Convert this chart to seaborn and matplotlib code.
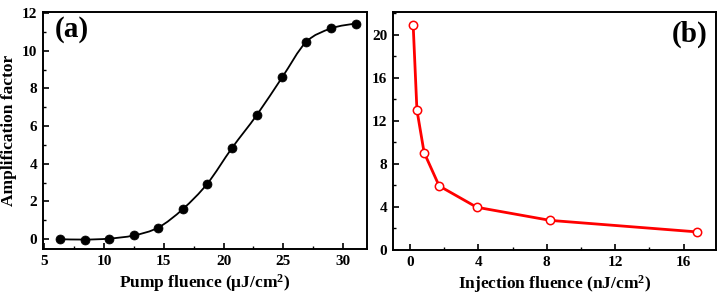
import numpy as np
import pandas as pd
import matplotlib
matplotlib.use("Agg")
import matplotlib.pyplot as plt
from matplotlib.path import Path
from matplotlib.patches import PathPatch
from matplotlib.ticker import MultipleLocator
import seaborn as sns

# ---- data ----
pump_fluence = [6.3, 8.4, 10.4, 12.5, 14.55, 16.6, 18.65, 20.7, 22.8, 24.9, 26.9, 29.0, 31.05]
amplification = [0.0, -0.02, 0.03, 0.2, 0.62, 1.6, 2.95, 4.83, 6.6, 8.58, 10.45, 11.18, 11.44]

injection_fluence = [0.18, 0.4, 0.82, 1.7, 3.9, 8.2, 16.8]
injection_amp = [20.9, 13.0, 9.05, 5.95, 3.97, 2.75, 1.68]

xlabel_a = "Pump fluence (\u03bcJ/cm$^{\\mathbf{2}}$)"
xlabel_b = "Injection fluence (nJ/cm$^{\\mathbf{2}}$)"
ylabel_a = "Amplification factor"

sns.set_theme(style="ticks")
plt.rcParams["font.family"] = ["Liberation Serif", "DejaVu Serif"]
plt.rcParams["font.weight"] = "bold"
plt.rcParams["mathtext.fontset"] = "custom"
plt.rcParams["mathtext.bf"] = "Liberation Serif:bold"
plt.rcParams["mathtext.rm"] = "Liberation Serif:bold"
plt.rcParams["mathtext.it"] = "Liberation Serif:bold"
for k in ["text.color", "axes.labelcolor", "xtick.color", "ytick.color", "axes.edgecolor"]:
    plt.rcParams[k] = "black"

fig = plt.figure(figsize=(7.25, 2.95), dpi=100)
ax1 = fig.add_axes([43/725, 46/295, 324/725, 237/295])
ax2 = fig.add_axes([393/725, 45/295, 323/725, 238/295])

df_a = pd.DataFrame({"x": pump_fluence, "y": amplification})
df_b = pd.DataFrame({"x": injection_fluence, "y": injection_amp})

# smooth curve through points (Catmull-Rom -> cubic Bezier)
x = np.array(pump_fluence, float)
y = np.array(amplification, float)
verts = [(x[0], y[0])]
codes = [Path.MOVETO]
n = len(x)
for i in range(n - 1):
    p0 = np.array([x[max(i - 1, 0)], y[max(i - 1, 0)]])
    p1 = np.array([x[i], y[i]])
    p2 = np.array([x[i + 1], y[i + 1]])
    p3 = np.array([x[min(i + 2, n - 1)], y[min(i + 2, n - 1)]])
    c1 = p1 + (p2 - p0) / 6.0
    c2 = p2 - (p3 - p1) / 6.0
    verts += [tuple(c1), tuple(c2), tuple(p2)]
    codes += [Path.CURVE4] * 3
ax1.add_patch(PathPatch(Path(verts, codes), facecolor="none", edgecolor="black", lw=1.3, zorder=2))
sns.scatterplot(data=df_a, x="x", y="y", ax=ax1, color="black", s=42, edgecolor="black", linewidth=0.5, zorder=3)

sns.lineplot(data=df_b, x="x", y="y", ax=ax2, color="red", lw=2.0, marker="o",
             markersize=6, markerfacecolor="white", markeredgecolor="red",
             markeredgewidth=1.1, zorder=3)

ax1.set_xlim(4.9, 32.0)
ax1.set_ylim(-0.52, 12.05)
ax1.xaxis.set_major_locator(MultipleLocator(5))
ax1.xaxis.set_minor_locator(MultipleLocator(2.5))
ax1.yaxis.set_major_locator(MultipleLocator(2))
ax1.yaxis.set_minor_locator(MultipleLocator(1))

ax2.set_xlim(-1.0, 17.9)
ax2.set_ylim(0, 22.1)
ax2.xaxis.set_major_locator(MultipleLocator(4))
ax2.xaxis.set_minor_locator(MultipleLocator(2))
ax2.yaxis.set_major_locator(MultipleLocator(4))
ax2.yaxis.set_minor_locator(MultipleLocator(2))

for ax in (ax1, ax2):
    for sp in ax.spines.values():
        sp.set_visible(True)
        sp.set_linewidth(1.4)
        sp.set_color("black")
    ax.tick_params(which="major", direction="in", length=4, width=1.2, labelsize=11,
                   colors="black", pad=4)
    ax.tick_params(which="minor", direction="in", length=2.5, width=1.0)
    ax.tick_params(top=False, right=False, which="both")
    for lab in ax.get_xticklabels() + ax.get_yticklabels():
        lab.set_fontweight("bold")

ax1.set_xlabel(xlabel_a, fontsize=12.5, fontweight="bold", labelpad=3)
ax1.set_ylabel(ylabel_a, fontsize=12.5, fontweight="bold", labelpad=4)
ax2.set_xlabel(xlabel_b, fontsize=12.5, fontweight="bold", labelpad=3)
ax2.set_ylabel("")

ax1.text(0.035, 0.985, "(a)", transform=ax1.transAxes, fontsize=21, fontweight="bold",
         ha="left", va="top")
ax2.text(0.975, 0.965, "(b)", transform=ax2.transAxes, fontsize=21, fontweight="bold",
         ha="right", va="top")

fig.savefig("out.png", dpi=100)
